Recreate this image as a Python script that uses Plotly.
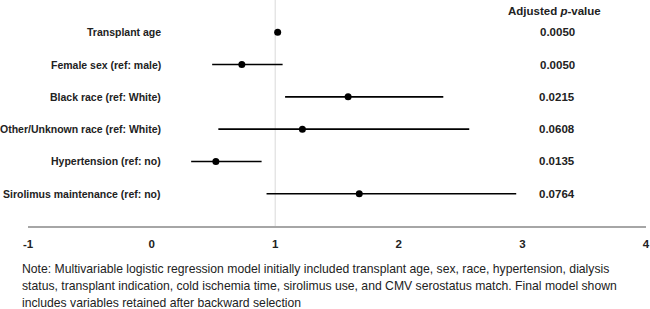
import plotly.graph_objects as go

labels = ["Transplant age", "Female sex (ref: male)", "Black race (ref: White)",
          "Other/Unknown race (ref: White)", "Hypertension (ref: no)",
          "Sirolimus maintenance (ref: no)"]
estimate = [1.02, 0.73, 1.59, 1.22, 0.52, 1.68]
ci_low = [1.00, 0.49, 1.08, 0.54, 0.32, 0.93]
ci_high = [1.04, 1.06, 2.36, 2.57, 0.89, 2.95]
p_values = ["0.0050", "0.0050", "0.0215", "0.0608", "0.0135", "0.0764"]
x_ticks = [-1, 0, 1, 2, 3, 4]
note_lines = [
    "Note: Multivariable logistic regression model initially included transplant age, sex, race, hypertension, dialysis",
    "status, transplant indication, cold ischemia time, sirolimus use, and CMV serostatus match. Final model shown",
    "includes variables retained after backward selection",
]

rows = list(range(len(labels)))
FONT = "Liberation Sans, Arial, sans-serif"

fig = go.Figure()
fig.add_shape(type="line", xref="x", yref="paper", x0=1, x1=1, y0=0, y1=1,
              line=dict(color="#d9d9d9", width=1), layer="below")
fig.add_trace(go.Scatter(
    x=estimate, y=rows, mode="markers",
    marker=dict(color="black", size=7),
    error_x=dict(type="data", symmetric=False,
                 array=[h - e for h, e in zip(ci_high, estimate)],
                 arrayminus=[e - l for e, l in zip(estimate, ci_low)],
                 color="black", thickness=1.6, width=0),
    showlegend=False, hoverinfo="skip"))

for r, lab in zip(rows, labels):
    fig.add_annotation(xref="paper", yref="y", x=0.219, xanchor="right", y=r,
                       text="<b>%s</b>" % lab, showarrow=False,
                       font=dict(family=FONT, size=10.5, color="#222"))

for r, p in zip(rows, p_values):
    fig.add_annotation(xref="paper", yref="y", x=0.856, xanchor="center", y=r,
                       text="<b>%s</b>" % p, showarrow=False,
                       font=dict(family=FONT, size=11.5, color="#222"))
fig.add_annotation(xref="paper", yref="y", x=0.852, xanchor="center", y=-0.66,
                   text="<b>Adjusted <i>p</i>-value</b>", showarrow=False,
                   font=dict(family=FONT, size=11.5, color="#222"))

for i, line in enumerate(note_lines):
    fig.add_annotation(xref="paper", yref="paper", x=-0.013, xanchor="left",
                       y=0, yshift=-43 - 17 * i, yanchor="middle", text=line,
                       showarrow=False, font=dict(family=FONT, size=12.2, color="#222"))

fig.update_layout(
    width=650, height=309, margin=dict(l=28, r=4, t=0, b=83),
    paper_bgcolor="white", plot_bgcolor="white",
    xaxis=dict(range=[-1, 4], tickvals=x_ticks,
               ticktext=["<b>%d</b>" % t for t in x_ticks],
               showgrid=False, zeroline=False, showline=True,
               linecolor="#a6a6a6", linewidth=2, ticks="", ticklabelstandoff=6,
               tickfont=dict(family=FONT, size=11.5, color="#222")),
    yaxis=dict(range=[6, -1], showticklabels=False,
               showgrid=False, zeroline=False, showline=False, ticks=""),
)
fig.write_html("out.html")
